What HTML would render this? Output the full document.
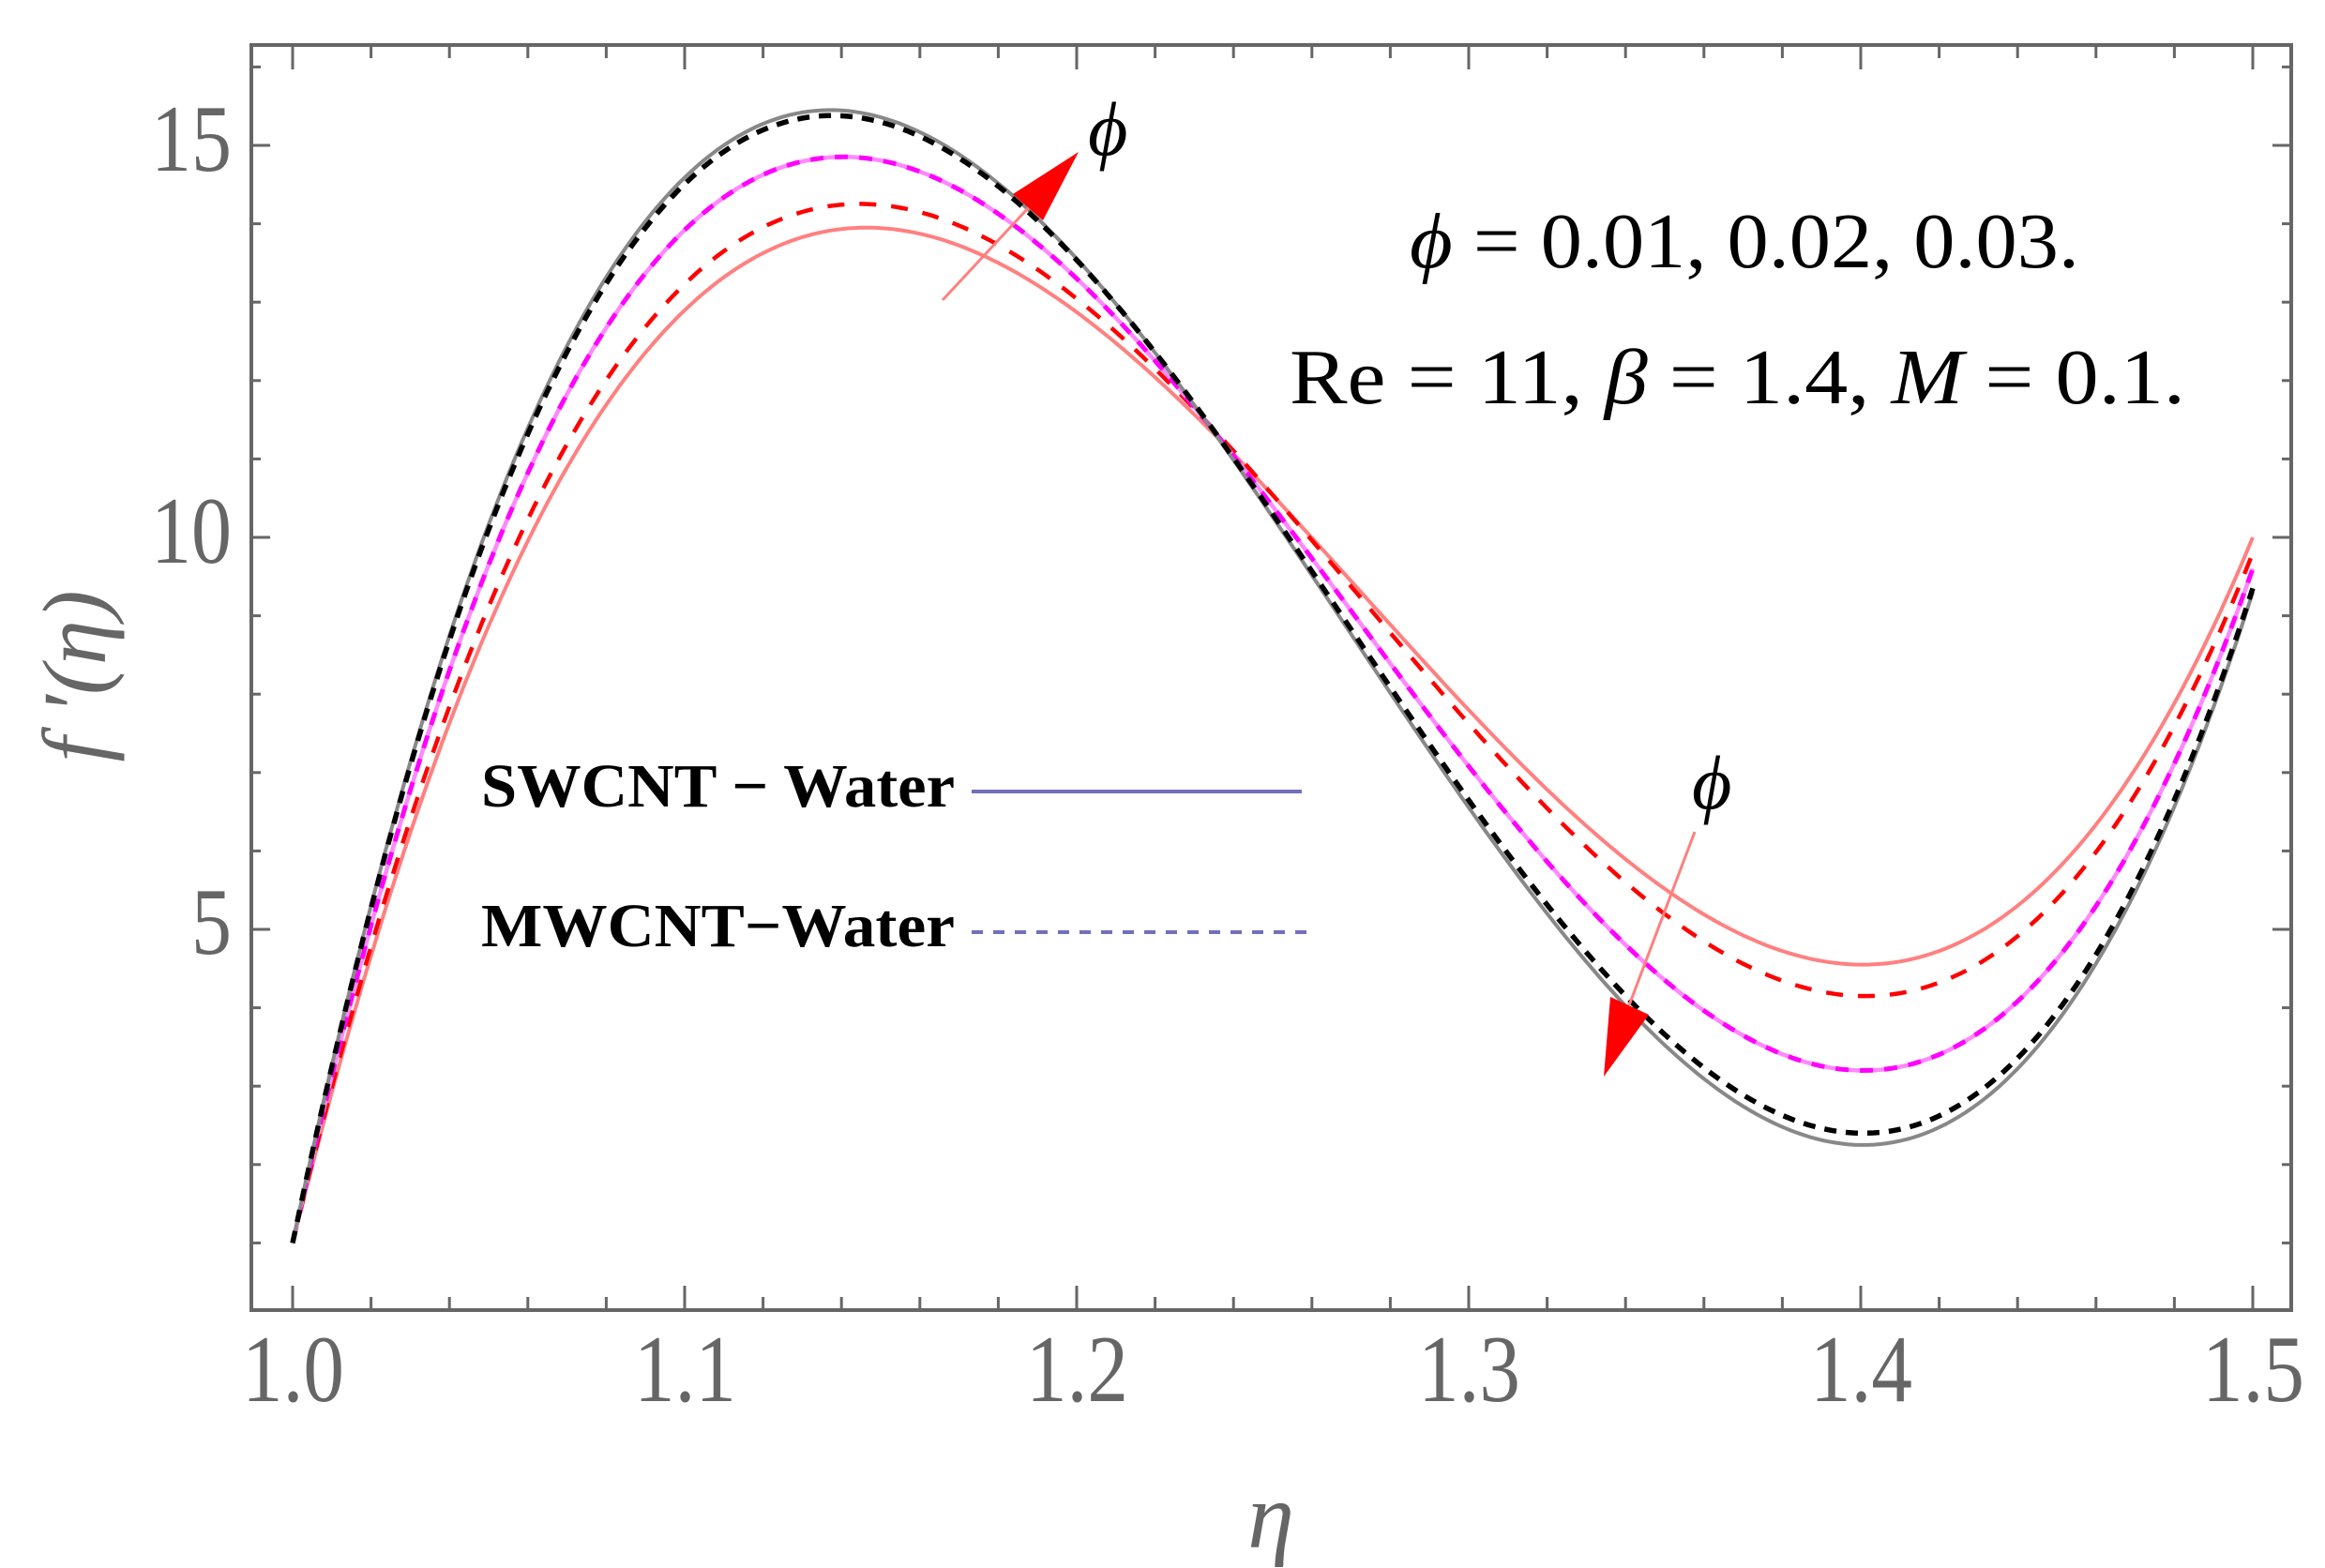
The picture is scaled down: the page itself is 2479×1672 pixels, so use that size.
<!DOCTYPE html>
<html><head><meta charset="utf-8">
<style>html,body{margin:0;padding:0;background:#fff;}svg{display:block}</style>
</head><body>
<svg id="s" width="2479" height="1672" viewBox="0 0 2479 1672" xmlns="http://www.w3.org/2000/svg">
<rect width="2479" height="1672" fill="#fff"/>
<g id="ticks" stroke="#666" stroke-width="3"></g>
<g id="curves" fill="none"></g>
<rect x="268" y="48" width="2175" height="1349" fill="none" stroke="#666" stroke-width="4"/>
<g font-family="Liberation Serif, serif" fill="#666" font-size="102" lengthAdjust="spacingAndGlyphs">
<text x="258" y="1494" textLength="109" lengthAdjust="spacingAndGlyphs">1.0</text>
<text x="676" y="1494" textLength="109" lengthAdjust="spacingAndGlyphs">1.1</text>
<text x="1094" y="1494" textLength="109" lengthAdjust="spacingAndGlyphs">1.2</text>
<text x="1512" y="1494" textLength="109" lengthAdjust="spacingAndGlyphs">1.3</text>
<text x="1930" y="1494" textLength="109" lengthAdjust="spacingAndGlyphs">1.4</text>
<text x="2348" y="1494" textLength="109" lengthAdjust="spacingAndGlyphs">1.5</text>
<text x="1355" y="1650" font-style="italic" font-size="100" text-anchor="middle">η</text>
</g>
<g font-family="Liberation Serif, serif" fill="#666" font-size="102">
<text x="161" y="182" textLength="86" lengthAdjust="spacingAndGlyphs">15</text>
<text x="161" y="600" textLength="86" lengthAdjust="spacingAndGlyphs">10</text>
<text x="204" y="1017" textLength="43" lengthAdjust="spacingAndGlyphs">5</text>
</g>
<text transform="translate(112,721) rotate(-90)" font-family="Liberation Serif, serif" font-style="italic" fill="#666" font-size="96" text-anchor="middle">f ′(η)</text>
<g font-family="Liberation Serif, serif" fill="#000" font-size="84">
<text x="1503" y="285" textLength="714" lengthAdjust="spacingAndGlyphs"><tspan font-style="italic">ϕ</tspan> = 0.01, 0.02, 0.03.</text>
<text x="1375" y="430" textLength="955" lengthAdjust="spacingAndGlyphs">Re = 11, <tspan font-style="italic">β</tspan> = 1.4, <tspan font-style="italic">M</tspan> = 0.1.</text>
<text x="1160" y="165" font-style="italic" font-size="82">ϕ</text>
<text x="1804" y="862" font-style="italic" font-size="82">ϕ</text>
</g>
<g font-family="Liberation Serif, serif" font-weight="bold" fill="#000" font-size="66">
<text x="513" y="860" textLength="505" lengthAdjust="spacingAndGlyphs">SWCNT − Water</text>
<text x="513" y="1009" textLength="505" lengthAdjust="spacingAndGlyphs">MWCNT−Water</text>
</g>
<line x1="1036" y1="844" x2="1388" y2="844" stroke="#7070bb" stroke-width="4"/>
<line x1="1036" y1="994" x2="1396" y2="994" stroke="#7070bb" stroke-width="4" stroke-dasharray="12,11"/>
<line x1="1005" y1="320" x2="1098" y2="220" stroke="#ff7f7f" stroke-width="3"/>
<polygon points="1150,162 1080,207 1112,235" fill="#f00"/>
<line x1="1807" y1="887" x2="1737" y2="1072" stroke="#ff7f7f" stroke-width="3"/>
<polygon points="1710,1148 1717,1063 1758,1082" fill="#f00"/>
</svg>
<script>
var X=function(e){return 312+(e-1)*4180;};
var Y=function(v){return 1409-v*83.6;};
var tk=document.getElementById('ticks'),h='';
for(var i=0;i<=25;i++){var x=312+i*83.6;var L=(i%5==0)?26:14;
h+='<line x1="'+x+'" y1="1397" x2="'+x+'" y2="'+(1397-L)+'"/><line x1="'+x+'" y1="48" x2="'+x+'" y2="'+(48+L)+'"/>';}
for(var v=1;v<=16;v++){var y=Y(v);var L=(v%5==0)?20:10;
h+='<line x1="268" y1="'+y+'" x2="'+(268+L)+'" y2="'+y+'"/><line x1="2443" y1="'+y+'" x2="'+(2443-L)+'" y2="'+y+'"/>';}
tk.innerHTML=h;
function solve(A,b){var n=3;for(var i=0;i<n;i++){var p=i;for(var k=i+1;k<n;k++)if(Math.abs(A[k][i])>Math.abs(A[p][i]))p=k;
var t=A[i];A[i]=A[p];A[p]=t;t=b[i];b[i]=b[p];b[p]=t;
for(var k=i+1;k<n;k++){var f=A[k][i]/A[i][i];for(var j=i;j<n;j++)A[k][j]-=f*A[i][j];b[k]-=f*b[i];}}
var x=[0,0,0];for(var i=n-1;i>=0;i--){var s=b[i];for(var j=i+1;j<n;j++)s-=A[i][j]*x[j];x[i]=s/A[i][i];}return x;}
function curve(a,pk,mn,en){var pts=[[a,pk],[0.4,mn],[0.5,en]];
var A=pts.map(function(p){return [p[0],p[0]*p[0],p[0]*p[0]*p[0]];});var b=pts.map(function(p){return p[1]-1;});
var c=solve(A,b);var d='';for(var i=0;i<=300;i++){var t=i/600;var v=1+c[0]*t+c[1]*t*t+c[2]*t*t*t;
d+=(i?'L':'M')+X(1+t).toFixed(1)+','+Y(v).toFixed(1);}return d;}
var S=[
[0.145,13.95,4.55,10.0,'#ff8080',4,''],
[0.142,14.25,4.15,9.8,'#ff0000',4.5,'18,16'],
[0.138,14.85,3.2,9.6,'#ff88ff',4.5,''],
[0.138,14.85,3.2,9.6,'#ff00ff',5,'14,12'],
[0.137,15.45,2.25,9.3,'#888888',4,''],
[0.137,15.38,2.4,9.35,'#000000',5.5,'13,10']];
var g='';S.forEach(function(s){g+='<path d="'+curve(s[0],s[1],s[2],s[3])+'" stroke="'+s[4]+'" stroke-width="'+s[5]+'"'+(s[6]?' stroke-dasharray="'+s[6]+'"':'')+'/>';});
document.getElementById('curves').innerHTML=g;
</script>
</body></html>
